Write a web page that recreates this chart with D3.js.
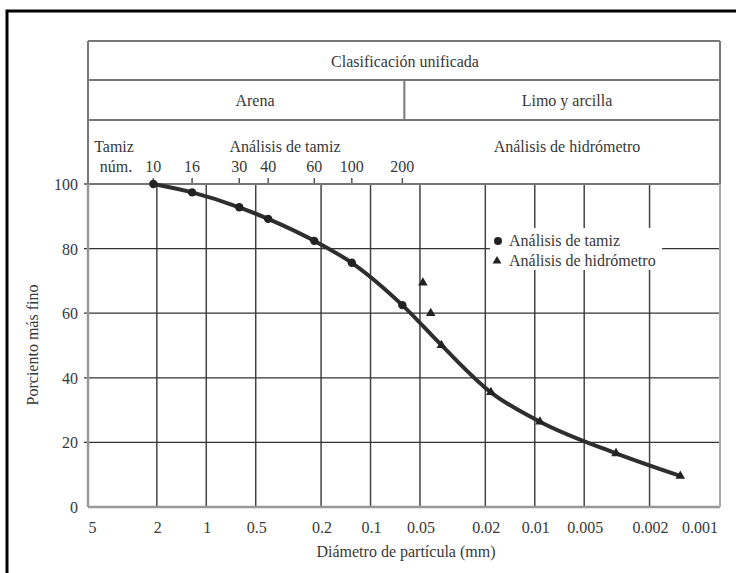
<!DOCTYPE html>
<html>
<head>
<meta charset="utf-8">
<script src="https://cdn.jsdelivr.net/npm/d3@7"></script>
<style>
  body { margin: 0; background: #fff; }
</style>
</head>
<body>
<div id="chart"></div>
<script>
// sieve analysis (circles)
var sieveNums = ["10", "16", "30", "40", "60", "100", "200"];
var sieveMm   = [2.1, 1.22, 0.63, 0.42, 0.22, 0.13, 0.064];
var sievePct  = [100, 97.4, 92.8, 89.2, 82.4, 75.6, 62.5];

// hydrometer analysis (triangles)
var hydroMm  = [0.048, 0.043, 0.037, 0.0185, 0.0093, 0.0032, 0.0013];
var hydroPct = [69.4, 60.0, 50.1, 35.5, 26.4, 16.6, 9.6];

// axis ticks
var xTicks = [5, 2, 1, 0.5, 0.2, 0.1, 0.05, 0.02, 0.01, 0.005, 0.002, 0.001];
var xTickLabels = ["5", "2", "1", "0.5", "0.2", "0.1", "0.05", "0.02", "0.01", "0.005", "0.002", "0.001"];
var xGrid = [2, 1, 0.5, 0.2, 0.1, 0.05, 0.02, 0.01, 0.005, 0.002];
var yTicks = [0, 20, 40, 60, 80, 100];

var W = 736, H = 573;
var plotLeft = 88, plotRight = 720, hdrTop = 41, row1 = 80, row2 = 120, plotBottom = 507, plotTop = 184;
var FONT = "'Liberation Serif', 'Times New Roman', serif";

var svg = d3.select("#chart").append("svg")
    .attr("width", W)
    .attr("height", H)
    .style("font-family", FONT);

var x = d3.scaleLog().domain([5.25, 0.000745]).range([plotLeft, plotRight]);
var y = d3.scaleLinear().domain([0, 100]).range([plotBottom, plotTop]);
var y100 = y(100);

function label(tx, ty, str, anchor) {
  return svg.append("text")
      .attr("x", tx).attr("y", ty)
      .attr("text-anchor", anchor || "middle")
      .style("font-family", FONT)
      .style("font-size", "16px")
      .style("fill", "#383838")
      .text(str);
}

// outer frame (cut at right and bottom)
svg.append("rect")
    .attr("x", 7).attr("y", 11)
    .attr("width", 760).attr("height", 600)
    .style("fill", "none")
    .style("stroke", "#000")
    .style("stroke-width", 3);

// header table
var hdr = svg.append("g").style("stroke", "#777").style("stroke-width", 2);
[hdrTop, row1, row2].forEach(function(yy) {
  hdr.append("line").attr("x1", plotLeft).attr("x2", plotRight).attr("y1", yy).attr("y2", yy);
});
hdr.append("line").attr("x1", plotLeft).attr("x2", plotLeft).attr("y1", hdrTop).attr("y2", y100);
hdr.append("line").attr("x1", plotRight).attr("x2", plotRight).attr("y1", hdrTop).attr("y2", y100);
hdr.append("line")
    .attr("x1", x(sieveMm[6]) + 2).attr("x2", x(sieveMm[6]) + 2)
    .attr("y1", row1).attr("y2", row2);

label(405, 67, "Clasificación unificada");
label(255, 106, "Arena");
label(567, 106, "Limo y arcilla");
label(114, 152, "Tamiz");
label(116, 172, "núm.");
label(285, 152, "Análisis de tamiz");
label(567, 152, "Análisis de hidrómetro");

// sieve number ticks
svg.selectAll(".sieveTick")
    .data(sieveMm)
    .enter()
    .append("line")
    .attr("x1", function(d) { return x(d); })
    .attr("x2", function(d) { return x(d); })
    .attr("y1", y100 - 6).attr("y2", y100)
    .style("stroke", "#555").style("stroke-width", 1.5);

sieveMm.forEach(function(d, i) { label(x(d), 172, sieveNums[i]); });

// grid
svg.selectAll(".vgrid")
    .data(xGrid)
    .enter()
    .append("line")
    .attr("x1", function(d) { return x(d); })
    .attr("x2", function(d) { return x(d); })
    .attr("y1", y100).attr("y2", plotBottom)
    .style("stroke", "#444").style("stroke-width", 1.5);

svg.selectAll(".hgrid")
    .data(yTicks.filter(function(d) { return d > 0; }))
    .enter()
    .append("line")
    .attr("x1", plotLeft - 4).attr("x2", plotRight)
    .attr("y1", function(d) { return y(d); })
    .attr("y2", function(d) { return y(d); })
    .style("stroke", function(d) { return d == 100 ? "#777" : "#333"; })
    .style("stroke-width", function(d) { return d == 100 ? 2 : 1.3; });

// plot frame
svg.append("line").attr("x1", plotLeft).attr("x2", plotLeft).attr("y1", y100).attr("y2", plotBottom)
    .style("stroke", "#999").style("stroke-width", 2.5);
svg.append("line").attr("x1", plotLeft).attr("x2", plotRight).attr("y1", plotBottom).attr("y2", plotBottom)
    .style("stroke", "#999").style("stroke-width", 2.5);
svg.append("line").attr("x1", plotRight).attr("x2", plotRight).attr("y1", y100).attr("y2", plotBottom)
    .style("stroke", "#aaa").style("stroke-width", 2);

// axis labels
yTicks.forEach(function(d) { label(78, y(d) + 6, d, "end"); });
xTicks.forEach(function(d, i) { label(x(d) + 1, 533, xTickLabels[i]); });

label(406, 557, "Diámetro de partícula (mm)");
label(0, 0, "Porciento más fino").attr("transform", "translate(38,345) rotate(-90)");

// legend box
svg.append("rect")
    .attr("x", 490).attr("y", 228)
    .attr("width", 172).attr("height", 42)
    .style("fill", "#fff");

// fitted curve: sieve points then hydrometer points from the third on
var curvePts = sieveMm.map(function(d, i) { return [d, sievePct[i]]; })
    .concat(hydroMm.slice(2).map(function(d, i) { return [d, hydroPct[i + 2]]; }));

var line = d3.line()
    .x(function(d) { return x(d[0]); })
    .y(function(d) { return y(d[1]); })
    .curve(d3.curveMonotoneX);

svg.append("path")
    .datum(curvePts)
    .attr("d", line)
    .style("fill", "none")
    .style("stroke", "#2e2e2e")
    .style("stroke-width", 4)
    .style("stroke-linecap", "round");

// markers
svg.selectAll(".pt")
    .data(sieveMm)
    .enter()
    .append("circle")
    .attr("cx", function(d) { return x(d); })
    .attr("cy", function(d, i) { return y(sievePct[i]); })
    .attr("r", 4.2)
    .style("fill", "#222");

var tri = d3.symbol().type(d3.symbolTriangle).size(40);
svg.selectAll(".tri")
    .data(hydroMm)
    .enter()
    .append("path")
    .attr("d", tri)
    .attr("transform", function(d, i) { return "translate(" + x(d) + "," + y(hydroPct[i]) + ")"; })
    .style("fill", "#222");

// legend
svg.append("circle").attr("cx", 498).attr("cy", 241).attr("r", 4).style("fill", "#222");
svg.append("path").attr("d", d3.symbol().type(d3.symbolTriangle).size(34))
    .attr("transform", "translate(497,261)").style("fill", "#222");
label(509, 246, "Análisis de tamiz", "start");
label(509, 266, "Análisis de hidrómetro", "start");
</script>
</body>
</html>
